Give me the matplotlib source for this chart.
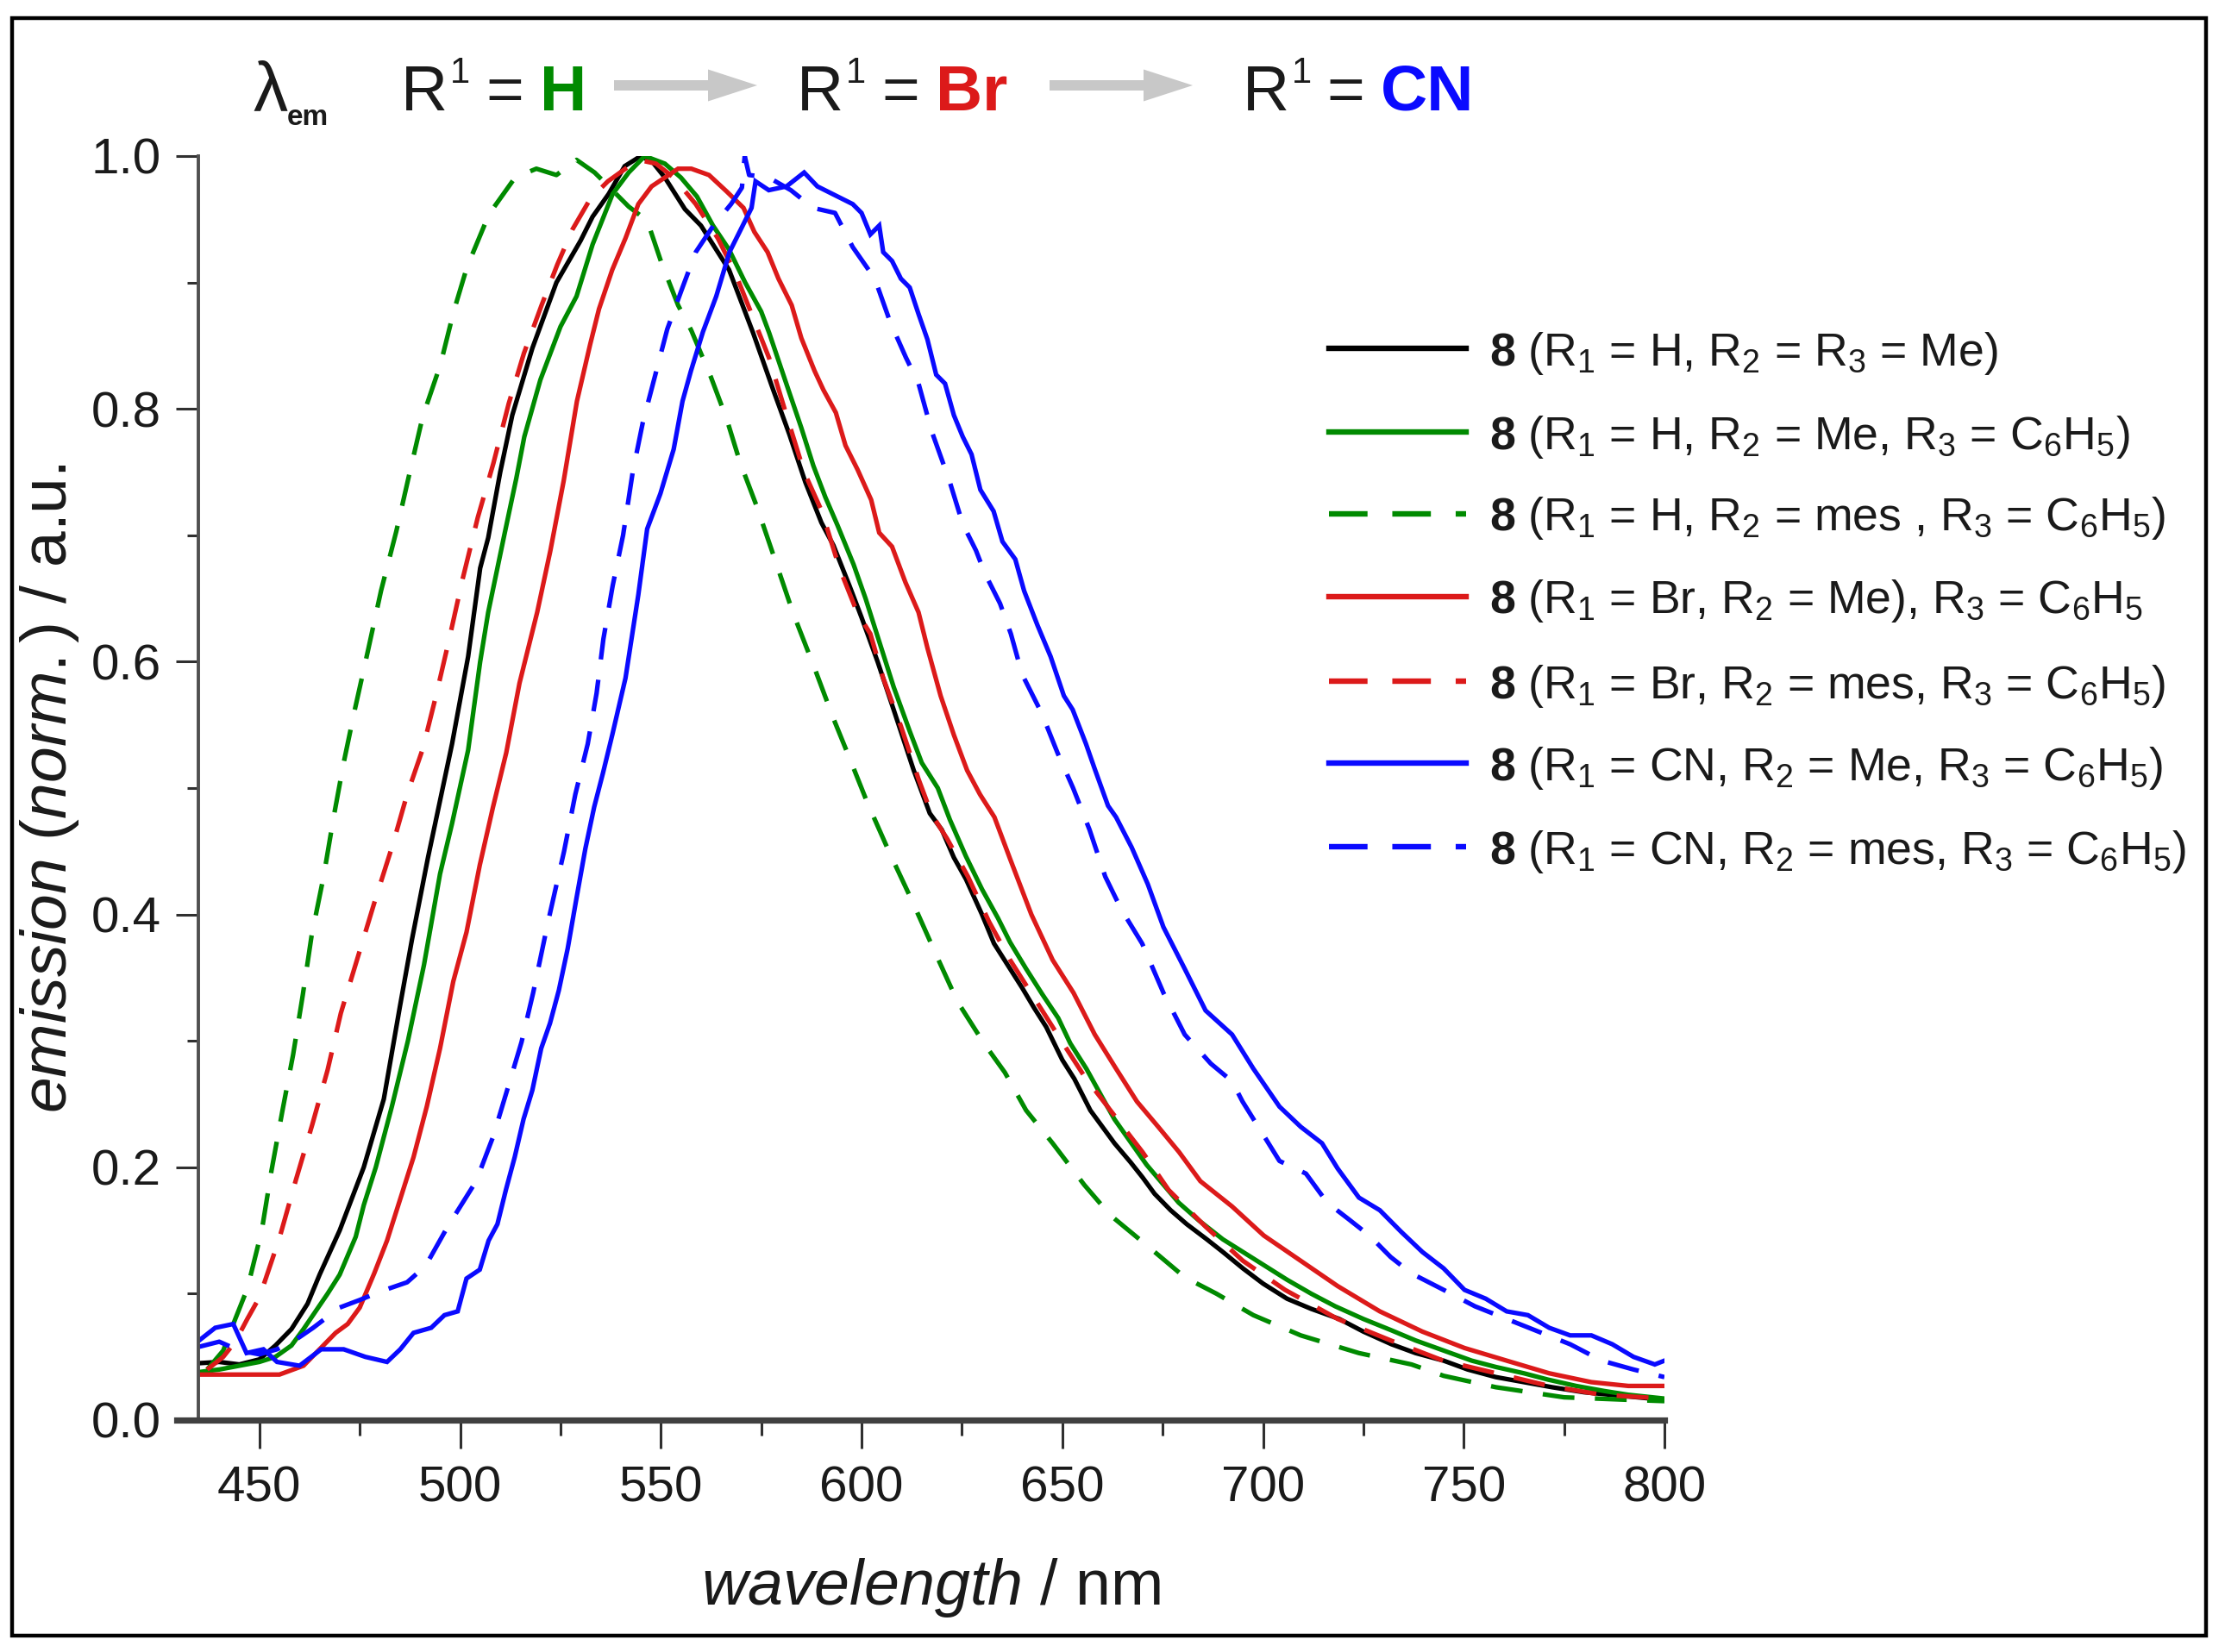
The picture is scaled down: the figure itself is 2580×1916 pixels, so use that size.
import matplotlib
matplotlib.use('Agg')
import matplotlib.pyplot as plt
from matplotlib import font_manager
from matplotlib.lines import Line2D
from matplotlib.patches import Rectangle, FancyArrow
from matplotlib.transforms import IdentityTransform
from matplotlib.ticker import MultipleLocator


def pick_font():
    for name in ['Liberation Sans Narrow', 'Liberation Sans', 'DejaVu Sans']:
        try:
            font_manager.findfont(font_manager.FontProperties(family=name),
                                  fallback_to_default=False)
            return name
        except Exception:
            pass
    return 'DejaVu Sans'


FONT = pick_font()
plt.rcParams['font.family'] = [FONT, 'DejaVu Sans']
plt.rcParams['mathtext.fontset'] = 'custom'
plt.rcParams['mathtext.rm'] = FONT
plt.rcParams['mathtext.it'] = FONT + ':italic'
plt.rcParams['mathtext.bf'] = FONT + ':bold'

# ---------------- data ----------------
wl_h_me = [435, 440, 445, 450, 454, 458, 462, 465, 470, 476, 481, 485, 488, 492, 495, 498, 502, 505, 507, 510,
           513, 518, 524, 530, 533, 537, 541, 545, 548, 551, 556, 560, 564, 567, 570, 573, 578, 582, 586, 590,
           593, 597, 600, 604, 608, 613, 617, 620, 623, 626, 630, 633, 637, 640, 643, 646, 650, 653, 657, 660,
           663, 667, 670, 673, 677, 681, 686, 690, 695, 700, 706, 712, 719, 725, 732, 738, 745, 751, 758, 765,
           772, 780, 790, 800]
em_h_me = [0.045, 0.046, 0.044, 0.048, 0.059, 0.072, 0.092, 0.115, 0.15, 0.2, 0.254, 0.327, 0.38, 0.445, 0.49,
           0.535, 0.604, 0.674, 0.698, 0.75, 0.795, 0.848, 0.9, 0.933, 0.952, 0.97, 0.992, 1.0, 0.995, 0.983,
           0.958, 0.945, 0.925, 0.91, 0.885, 0.86, 0.815, 0.78, 0.742, 0.71, 0.692, 0.66, 0.635, 0.6, 0.562,
           0.514, 0.48, 0.467, 0.445, 0.428, 0.4, 0.377, 0.357, 0.342, 0.326, 0.311, 0.285, 0.27, 0.245, 0.232,
           0.219, 0.204, 0.192, 0.179, 0.166, 0.155, 0.143, 0.133, 0.12, 0.108, 0.096, 0.088, 0.08, 0.07, 0.06,
           0.053, 0.047, 0.04, 0.034, 0.03, 0.026, 0.022, 0.019, 0.016]

wl_h_me_ph = [435, 440, 445, 450, 454, 458, 461, 464, 467, 470, 474, 476, 479, 483, 487, 491, 495, 498, 502, 505,
              507, 511, 514, 516, 520, 525, 529, 533, 538, 542, 546, 551, 555, 559, 563, 567, 571, 575, 577, 582,
              585, 588, 591, 594, 598, 601, 604, 608, 612, 615, 619, 622, 626, 630, 634, 637, 641, 645, 649, 652,
              656, 660, 663, 667, 671, 675, 679, 684, 690, 695, 700, 706, 712, 718, 725, 732, 738, 745, 752, 758,
              765, 771, 778, 785, 791, 800]
em_h_me_ph = [0.038, 0.04, 0.043, 0.046, 0.05, 0.059, 0.072, 0.086, 0.1, 0.115, 0.145, 0.17, 0.2, 0.248, 0.3,
              0.36, 0.432, 0.472, 0.53, 0.6, 0.639, 0.7, 0.745, 0.778, 0.823, 0.865, 0.889, 0.93, 0.97, 0.987,
              1.0, 0.994, 0.983, 0.968, 0.945, 0.926, 0.9, 0.877, 0.86, 0.813, 0.785, 0.755, 0.73, 0.708, 0.677,
              0.65, 0.62, 0.58, 0.545, 0.52, 0.5, 0.475, 0.446, 0.42, 0.397, 0.378, 0.357, 0.337, 0.318, 0.298,
              0.278, 0.255, 0.238, 0.22, 0.202, 0.187, 0.172, 0.158, 0.143, 0.133, 0.123, 0.111, 0.1, 0.09, 0.08,
              0.071, 0.063, 0.055, 0.047, 0.042, 0.037, 0.032, 0.027, 0.023, 0.02, 0.017]

wl_h_mes = [437, 441, 444, 447, 450.6, 453, 455.7, 458.4, 460.8, 463, 466, 468.5, 471, 473.7, 477, 480.3, 484.1,
            487.4, 490.7, 495.1, 498.4, 501.7, 507.2, 513.7, 519, 524, 529, 533.5, 537, 542, 546.6, 550, 554.3,
            557.6, 562.5, 566.4, 569.7, 574, 578.4, 583, 588.4, 593, 597.1, 601.5, 606.8, 612.7, 618.6, 623.9,
            630.5, 635.7, 641, 647.6, 655.5, 662, 671.9, 680.5, 688.4, 697.6, 709.4, 723.9, 737, 745, 758, 775,
            791, 800]
em_h_mes = [0.04, 0.055, 0.08, 0.104, 0.15, 0.197, 0.244, 0.289, 0.336, 0.383, 0.43, 0.477, 0.52, 0.561, 0.608,
            0.656, 0.703, 0.749, 0.794, 0.835, 0.877, 0.912, 0.954, 0.983, 0.99, 0.985, 0.997, 0.987, 0.976, 0.96,
            0.949, 0.917, 0.882, 0.862, 0.825, 0.792, 0.758, 0.722, 0.681, 0.638, 0.594, 0.555, 0.523, 0.488,
            0.45, 0.41, 0.368, 0.331, 0.298, 0.275, 0.245, 0.219, 0.186, 0.162, 0.136, 0.113, 0.1, 0.083, 0.067,
            0.053, 0.044, 0.035, 0.026, 0.018, 0.016, 0.015]

wl_br_me = [435, 445, 455, 461, 465, 469, 472, 475, 478.6, 481.8, 485.1, 488.4, 491.7, 495, 498.3, 501.6, 504.9,
            508.2, 511.5, 514.8, 519.2, 522.5, 525.8, 529.1, 532.4, 534.6, 537.9, 541.2, 544.4, 547.7, 551, 554.3,
            557.6, 562, 566.4, 570.6, 573.3, 576.6, 579.3, 582.6, 585, 588.3, 590.5, 593.6, 596, 599, 602.4,
            604.4, 607.6, 610.9, 614.2, 616.4, 619.7, 623, 626.3, 629.5, 633.1, 637, 642.3, 647.6, 652.8, 658.1,
            663.4, 668.6, 673.9, 679.1, 684.4, 692.3, 700.2, 709.4, 718.6, 729.1, 739.7, 750.2, 760.7, 771.3,
            781.8, 791, 800]
em_br_me = [0.036, 0.036, 0.036, 0.043, 0.056, 0.069, 0.076, 0.089, 0.116, 0.142, 0.175, 0.208, 0.248, 0.294,
            0.347, 0.386, 0.439, 0.485, 0.528, 0.583, 0.639, 0.688, 0.743, 0.806, 0.851, 0.879, 0.91, 0.935,
            0.962, 0.976, 0.983, 0.99, 0.99, 0.985, 0.972, 0.959, 0.94, 0.924, 0.903, 0.882, 0.856, 0.83, 0.815,
            0.797, 0.771, 0.752, 0.728, 0.702, 0.691, 0.663, 0.639, 0.611, 0.573, 0.542, 0.514, 0.495, 0.477,
            0.444, 0.4, 0.364, 0.338, 0.305, 0.278, 0.252, 0.232, 0.212, 0.189, 0.169, 0.146, 0.126, 0.106,
            0.086, 0.07, 0.057, 0.047, 0.037, 0.03, 0.027, 0.027]

wl_br_mes = [437, 441, 444, 447, 450, 455, 459.1, 463.2, 467, 470.3, 474.5, 478.8, 483.2, 486.8, 490.7, 494,
             497.3, 500.6, 504.4, 508.3, 512.1, 515.9, 520.3, 524.2, 528, 532.4, 536.8, 541.2, 544.4, 548.8,
             553.2, 558.7, 564.2, 568.6, 573, 577, 581.3, 585.7, 590.1, 594.5, 598.9, 602.2, 605.4, 609.8, 614.2,
             617.5, 621.3, 626.5, 631.8, 637, 643.6, 650.2, 655.5, 662, 670, 676.5, 685.7, 695, 705.5, 718.6,
             731.8, 744.9, 758.1, 771.3, 784.4, 800]
em_br_mes = [0.04, 0.05, 0.062, 0.08, 0.097, 0.144, 0.19, 0.234, 0.277, 0.322, 0.366, 0.411, 0.455, 0.495, 0.531,
             0.573, 0.618, 0.665, 0.714, 0.757, 0.804, 0.844, 0.882, 0.914, 0.942, 0.966, 0.98, 0.99, 0.997,
             0.994, 0.983, 0.962, 0.935, 0.907, 0.872, 0.84, 0.795, 0.75, 0.719, 0.674, 0.639, 0.622, 0.587,
             0.549, 0.507, 0.479, 0.46, 0.43, 0.394, 0.364, 0.331, 0.298, 0.272, 0.245, 0.212, 0.182, 0.153,
             0.126, 0.103, 0.08, 0.063, 0.047, 0.037, 0.027, 0.02, 0.017]

wl_cn_me = [435, 439, 443.5, 446.8, 451, 454.4, 460, 465.4, 471, 476.4, 481.8, 485.1, 488.4, 492.8, 496.1, 499.4,
            501.6, 504.9, 507.1, 509.3, 511.4, 513.6, 515.8, 518, 520.2, 522.4, 524.6, 526.8, 529, 531.2, 533.4,
            535.6, 537.9, 541.2, 544.4, 546.6, 549.9, 553.2, 555.4, 557.5, 560.5, 563.8, 567.1, 570.4, 572.6,
            573.6, 576.9, 581.3, 585.7, 589, 593.4, 597.8, 600, 602.2, 604.4, 605.4, 607.6, 609.8, 612, 614.2,
            616.4, 618.6, 620.8, 623, 625.2, 627.4, 629.6, 632.9, 635.1, 638.3, 640.5, 643.8, 647.1, 650.4,
            652.6, 655.9, 658.1, 661.4, 663.4, 667.3, 671.3, 675.2, 680.5, 685.7, 692.3, 697.6, 704.1, 709.4,
            714.7, 718.6, 723.9, 729.1, 734.4, 739.7, 745, 750.2, 755.5, 760.7, 766, 771.3, 776.5, 781.8, 787,
            792.3, 797.6, 800]
em_cn_me = [0.063, 0.073, 0.076, 0.053, 0.056, 0.046, 0.043, 0.056, 0.056, 0.05, 0.046, 0.056, 0.069, 0.073,
            0.083, 0.086, 0.112, 0.119, 0.142, 0.155, 0.182, 0.208, 0.238, 0.261, 0.294, 0.314, 0.34, 0.373,
            0.413, 0.452, 0.485, 0.512, 0.542, 0.587, 0.653, 0.705, 0.733, 0.768, 0.806, 0.83, 0.861, 0.889,
            0.924, 0.945, 0.959, 0.98, 0.973, 0.976, 0.987, 0.976, 0.969, 0.962, 0.955, 0.938, 0.945, 0.924,
            0.917, 0.903, 0.896, 0.875, 0.855, 0.827, 0.82, 0.795, 0.778, 0.764, 0.736, 0.719, 0.695, 0.681,
            0.656, 0.629, 0.604, 0.573, 0.562, 0.535, 0.515, 0.486, 0.477, 0.453, 0.424, 0.39, 0.357, 0.324,
            0.305, 0.278, 0.248, 0.232, 0.219, 0.199, 0.176, 0.166, 0.149, 0.133, 0.12, 0.103, 0.096, 0.086,
            0.083, 0.073, 0.067, 0.067, 0.06, 0.05, 0.044, 0.047]

wl_cn_mes = [435, 440, 445, 450, 454.4, 458.8, 463.4, 470, 475, 480.4, 486.8, 491.4, 496.9, 504, 508.2, 512,
             515.3, 518.2, 521.9, 525.9, 528.7, 531.8, 534, 535.7, 538, 540.6, 543, 545.5, 548.8, 551.6, 555.4,
             558.7, 563.1, 567.5, 570.2, 570.9, 572, 576.9, 582.4, 587.9, 593.4, 597.8, 603.3, 607.1, 611, 614.2,
             617.5, 621.9, 625.2, 628.5, 630.7, 634.5, 637.2, 640, 644.9, 648.8, 652.7, 656.8, 660.7, 664.7,
             669.9, 675.2, 680.5, 687, 692.3, 694.9, 700.2, 704.1, 710.7, 716, 721.3, 726.5, 731.8, 737, 745,
             752.8, 760.7, 768.6, 776.5, 784.4, 792.3, 800]
em_cn_mes = [0.058, 0.062, 0.055, 0.052, 0.056, 0.063, 0.073, 0.089, 0.095, 0.102, 0.109, 0.122, 0.153, 0.189,
             0.224, 0.264, 0.299, 0.338, 0.394, 0.45, 0.495, 0.535, 0.575, 0.618, 0.66, 0.7, 0.75, 0.789, 0.829,
             0.863, 0.896, 0.924, 0.945, 0.962, 0.975, 1.0, 0.985, 0.983, 0.973, 0.959, 0.955, 0.928, 0.903,
             0.869, 0.841, 0.82, 0.782, 0.743, 0.709, 0.688, 0.67, 0.646, 0.622, 0.59, 0.559, 0.528, 0.5, 0.467,
             0.43, 0.404, 0.377, 0.338, 0.305, 0.282, 0.268, 0.252, 0.225, 0.205, 0.195, 0.172, 0.159, 0.146,
             0.129, 0.116, 0.103, 0.09, 0.08, 0.07, 0.06, 0.047, 0.04, 0.034]

labels = [
    r"$\mathbf{8}$ (R$_1$ = H, R$_2$ = R$_3$ = Me)",
    r"$\mathbf{8}$ (R$_1$ = H, R$_2$ = Me, R$_3$ = C$_6$H$_5$)",
    r"$\mathbf{8}$ (R$_1$ = H, R$_2$ = mes , R$_3$ = C$_6$H$_5$)",
    r"$\mathbf{8}$ (R$_1$ = Br, R$_2$ = Me), R$_3$ = C$_6$H$_5$",
    r"$\mathbf{8}$ (R$_1$ = Br, R$_2$ = mes, R$_3$ = C$_6$H$_5$)",
    r"$\mathbf{8}$ (R$_1$ = CN, R$_2$ = Me, R$_3$ = C$_6$H$_5$)",
    r"$\mathbf{8}$ (R$_1$ = CN, R$_2$ = mes, R$_3$ = C$_6$H$_5$)",
]
xticks = [450, 500, 550, 600, 650, 700, 750, 800]
yticks = [0.0, 0.2, 0.4, 0.6, 0.8, 1.0]

# ---------------- styles ----------------
BLACK, GREEN, RED, BLUE = '#000000', '#008a00', '#dc1a1a', '#0a0aff'
series = [
    (wl_h_me, em_h_me, BLACK, 'solid'),
    (wl_h_me_ph, em_h_me_ph, GREEN, 'solid'),
    (wl_h_mes, em_h_mes, GREEN, 'dashed'),
    (wl_br_me, em_br_me, RED, 'solid'),
    (wl_br_mes, em_br_mes, RED, 'dashed'),
    (wl_cn_me, em_cn_me, BLUE, 'solid'),
    (wl_cn_mes, em_cn_mes, BLUE, 'dashed'),
]
LW = 1.9
DASH = (7, 4.5)
TXT = '#1a1a1a'

W, H, DPI = 2580, 1916, 200
fig = plt.figure(figsize=(W / DPI, H / DPI), dpi=DPI)
fig.patch.set_facecolor('white')
renderer = fig.canvas.get_renderer()

# axes placement (pixels): left 230, right 1930, y=0 at 1647, y=1 at 181
ax_l, ax_r, ax_b, ax_t = 230, 1930, 1647, 181
ax = fig.add_axes([ax_l / W, 1 - ax_b / H, (ax_r - ax_l) / W, (ax_b - ax_t) / H])
ax.set_facecolor('none')

handles = []
for (wl, em, col, ls), lab in zip(series, labels):
    ln, = ax.plot(wl, em, color=col, lw=LW, solid_joinstyle='miter')
    if ls == 'dashed':
        ln.set_dashes(DASH)
    handles.append(ln)

ax.set_xlim(434.8, 800)
ax.set_ylim(0, 1.0)
for s in ['top', 'right']:
    ax.spines[s].set_visible(False)
ax.spines['bottom'].set_linewidth(2.6)
ax.spines['bottom'].set_color('#404040')
ax.spines['bottom'].set_bounds(429.5, 800)
ax.spines['left'].set_linewidth(1.4)
ax.spines['left'].set_color('#505050')

ax.set_xticks(xticks)
ax.set_yticks(yticks)
ax.set_yticklabels([f"{v:.1f}" for v in yticks])
ax.xaxis.set_minor_locator(MultipleLocator(25))
ax.yaxis.set_minor_locator(MultipleLocator(0.1))
ax.tick_params(axis='x', which='major', direction='out', length=12, width=1.1,
               color='#303030', labelsize=21, pad=7, labelcolor=TXT)
ax.tick_params(axis='x', which='minor', direction='out', length=6.5, width=1.1, color='#303030')
ax.tick_params(axis='y', which='major', direction='out', length=9.5, width=1.1,
               color='#303030', labelsize=21, pad=6, labelcolor=TXT)
ax.tick_params(axis='y', which='minor', direction='out', length=4.7, width=1.1, color='#303030')

ax.set_xlabel(r"$\mathit{wavelength}$ / nm", fontsize=26.5, color=TXT)
ax.xaxis.label.set_va('center')
ax.xaxis.set_label_coords(0.5, (ax_b - 1842) / (ax_b - ax_t))
ax.set_ylabel(r"$\mathit{emission\ (norm.)}$ / a.u.", fontsize=27, color=TXT)
ax.yaxis.label.set_va('center')
ax.yaxis.set_label_coords((57 - ax_l) / (ax_r - ax_l), 0.5)

# ---------------- legend (manual placement, fitted to the reference width) ----------------
leg_y = [403.6, 500.9, 595.5, 691.5, 789.7, 884.8, 981.7]
LEG_X0, LEG_X1, TEXT_X, TEXT_END = 1541, 1700, 1727, 2536
leg_fs = 21.0
leg_texts = []
for ln, lab, yy in zip(handles, labels, leg_y):
    hl = Line2D([LEG_X0 / W, LEG_X1 / W], [1 - yy / H, 1 - yy / H], transform=fig.transFigure,
                color=ln.get_color(), lw=LW + 0.4)
    if ln.get_linestyle() != '-':
        hl.set_dashes(DASH)
    fig.add_artist(hl)
    leg_texts.append(fig.text(TEXT_X / W, 1 - (yy + 20) / H, lab, fontsize=leg_fs,
                              va='baseline', ha='left', color=TXT))
widest = max(t.get_window_extent(renderer).width for t in leg_texts)
scale = min(1.0, (TEXT_END - TEXT_X) / widest)
for t in leg_texts:
    t.set_fontsize(leg_fs * scale)

# ---------------- header ----------------
def ftxt(x, y, s, **kw):
    return fig.text(x / W, 1 - y / H, s, va='baseline', ha='left', **kw)

HFS = 27
ftxt(293, 128, "λ", fontsize=29, color=TXT)
ftxt(333, 145, "em", fontsize=12, color=TXT, fontweight='bold')
for xr, xeq, xw, word, col in [(465, 563, 626, "H", GREEN), (924, 1022, 1085, "Br", RED),
                                (1441, 1538, 1601, "CN", BLUE)]:
    r = ftxt(xr, 128, "R", fontsize=HFS, color=TXT)
    rw = r.get_window_extent(renderer).width
    ftxt(xr + rw + 3, 96, "1", fontsize=15, color=TXT)
    ftxt(xeq, 128, "=", fontsize=HFS, color=TXT)
    ftxt(xw, 128, word, fontsize=HFS, color=col, fontweight='bold')

for x0, x1 in [(712, 878), (1217, 1383)]:
    arr = FancyArrow(x0, H - 99, x1 - x0, 0, width=12, head_width=37, head_length=57,
                     length_includes_head=True, transform=IdentityTransform(),
                     color='#c8c8c8', lw=0)
    fig.add_artist(arr)

# outer frame
frame = Rectangle((14, H - 1897), 2558 - 14, 1897 - 21, transform=IdentityTransform(),
                  fill=False, edgecolor='black', lw=1.6)
fig.add_artist(frame)

fig.savefig('out.png', dpi=DPI, facecolor='white')
